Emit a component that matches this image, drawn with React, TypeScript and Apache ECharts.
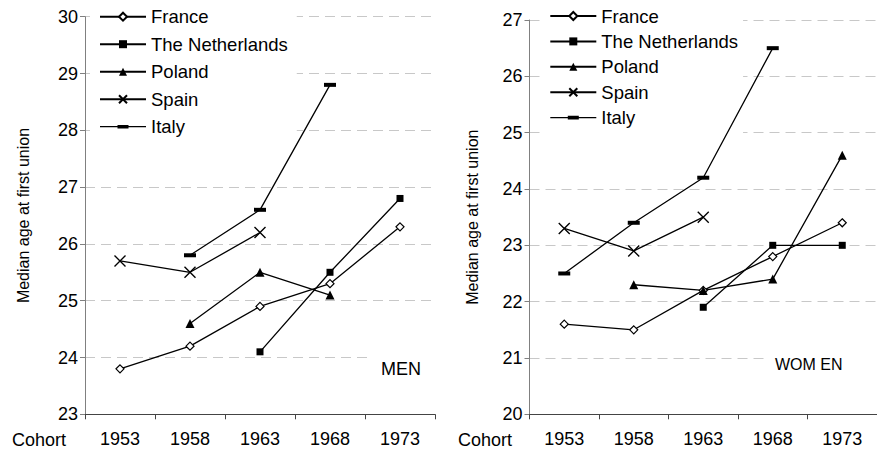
import React, { useEffect, useRef } from "react";
import * as echarts from "echarts";

const cohorts = ["1953", "1958", "1963", "1968", "1973"];
const countries = ["France", "The Netherlands", "Poland", "Spain", "Italy"];

const menFrance = [23.8, 24.2, 24.9, 25.3, 26.3];
const menNetherlands = [null, null, 24.1, 25.5, 26.8];
const menPoland = [null, 24.6, 25.5, 25.1, null];
const menSpain = [25.7, 25.5, 26.2, null, null];
const menItaly = [null, 25.8, 26.6, 28.8, null];

const womenFrance = [21.6, 21.5, 22.2, 22.8, 23.4];
const womenNetherlands = [null, null, 21.9, 23.0, 23.0];
const womenPoland = [null, 22.3, 22.2, 22.4, 24.6];
const womenSpain = [23.3, 22.9, 23.5, null, null];
const womenItaly = [22.5, 23.4, 24.2, 26.5, null];

const FONT = "'Liberation Sans', Arial, sans-serif";

const markerStyles: any[] = [
  { symbol: "diamond", symbolSize: 8, itemStyle: { color: "#fff", borderColor: "#000", borderWidth: 1.2 } },
  { symbol: "rect", symbolSize: 7, itemStyle: { color: "#000", borderColor: "#000", borderWidth: 0 } },
  { symbol: "triangle", symbolSize: 9, itemStyle: { color: "#000", borderColor: "#000", borderWidth: 0 } },
  { symbol: "path://M0 0L10 10M10 0L0 10", symbolSize: 11, itemStyle: { color: "#000", borderColor: "#000", borderWidth: 1.4 } },
  { symbol: "path://M0 0L12 0L12 4L0 4Z", symbolSize: [12, 4], symbolKeepAspect: false, itemStyle: { color: "#000", borderColor: "#000", borderWidth: 0 } },
];

const italyLegendIcon =
  "path://M0 4.4L17.5 4.4L17.5 3.2L28.5 3.2L28.5 4.4L46 4.4L46 5.6L28.5 5.6L28.5 6.8L17.5 6.8L17.5 5.6L0 5.6Z";

function makeSeries(values: (number | null)[][], idx: number) {
  return values.map((data, i) => ({
    name: countries[i],
    type: "line",
    xAxisIndex: idx,
    yAxisIndex: idx,
    data,
    z: 3,
    connectNulls: false,
    showAllSymbol: true,
    lineStyle: { color: "#000", width: 1.3 },
    ...markerStyles[i],
  }));
}

function yAxis(idx: number, min: number, max: number, nameGap: number) {
  return {
    type: "value",
    gridIndex: idx,
    min,
    max,
    interval: 1,
    name: "Median age at first union",
    nameLocation: "middle",
    nameRotate: 90,
    nameGap,
    nameTextStyle: { fontFamily: FONT, fontSize: 16, color: "#000" },
    axisLine: { show: true, lineStyle: { color: "#808080", width: 1 } },
    axisTick: { show: true, length: 5, lineStyle: { color: "#808080" } },
    axisLabel: { fontFamily: FONT, fontSize: 18, color: "#000", margin: 7 },
    splitLine: { show: true, lineStyle: { color: "#c8c8c8", type: [10, 6], width: 1 } },
  };
}

function xAxis(idx: number) {
  return {
    type: "category",
    gridIndex: idx,
    data: cohorts,
    boundaryGap: true,
    axisLine: { show: true, lineStyle: { color: "#444", width: 1 } },
    axisTick: { show: true, length: 5, alignWithLabel: false, lineStyle: { color: "#444" } },
    axisLabel: { fontFamily: FONT, fontSize: 18, color: "#000", margin: 16 },
    splitLine: { show: false },
  };
}

export default function App() {
  const ref = useRef<HTMLDivElement>(null);
  useEffect(() => {
    document.body.style.margin = "0";
    const chart = echarts.init(ref.current!, null, { renderer: "svg" });
    const legendData = countries.map((name) =>
      name === "Italy" ? { name, icon: italyLegendIcon } : { name }
    );
    const legendBase = {
      orient: "vertical",
      itemWidth: 46,
      itemHeight: 10,
      symbolKeepAspect: true,
      backgroundColor: "#fff",
      data: legendData,
      z: 1,
      textStyle: { fontFamily: FONT, fontSize: 18.5, color: "#000", lineHeight: 20 },
      selectedMode: false,
    };
    const option: any = {
      animation: false,
      backgroundColor: "#fff",
      grid: [
        { left: 85, width: 350, top: 16.7, bottom: 37.7 },
        { left: 529.5, width: 350, top: 20, bottom: 37.7 },
      ],
      xAxis: [xAxis(0), xAxis(1)],
      yAxis: [yAxis(0, 23, 30, 54), yAxis(1, 20, 27, 49)],
      legend: [
        { ...legendBase, left: 90, top: 0.7, padding: [6, 9, 6, 9], itemGap: 7.5 },
        { ...legendBase, left: 544.3, top: 0, padding: [6, 5, 7, 5], itemGap: 5.4 },
      ],
      graphic: [
        { type: "rect", z: 100, shape: { x: 370, y: 350, width: 66, height: 35 }, style: { fill: "#fff" } },
        { type: "text", z: 101, x: 381, y: 369, style: { text: "MEN", fontFamily: FONT, fontSize: 18, fill: "#000", verticalAlign: "middle" } },
        { type: "rect", z: 100, shape: { x: 767, y: 348, width: 110, height: 32 }, style: { fill: "#fff" } },
        { type: "text", z: 101, x: 775, y: 364, style: { text: "WOM EN", fontFamily: FONT, fontSize: 16, fill: "#000", verticalAlign: "middle" } },
        { type: "text", z: 101, x: 12, y: 440, style: { text: "Cohort", fontFamily: FONT, fontSize: 18, fill: "#000", verticalAlign: "middle" } },
        { type: "text", z: 101, x: 458, y: 440, style: { text: "Cohort", fontFamily: FONT, fontSize: 18, fill: "#000", verticalAlign: "middle" } },
      ],
      series: [
        ...makeSeries([menFrance, menNetherlands, menPoland, menSpain, menItaly], 0),
        ...makeSeries([womenFrance, womenNetherlands, womenPoland, womenSpain, womenItaly], 1),
      ],
    };
    chart.setOption(option);
    return () => chart.dispose();
  }, []);
  return (
    <div
      ref={ref}
      style={{ position: "fixed", left: 0, top: 0, width: 877, height: 452 }}
    />
  );
}
